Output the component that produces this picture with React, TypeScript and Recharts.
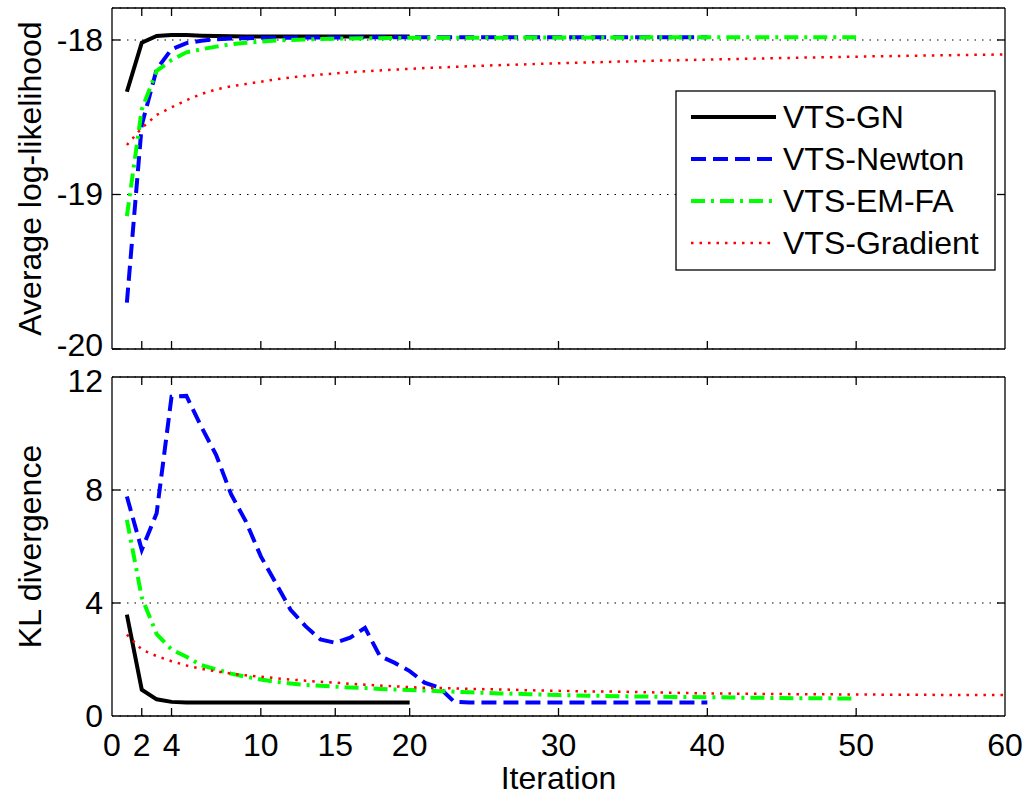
import React from 'react';
import { LineChart, Line, XAxis, YAxis, CartesianGrid, Legend } from 'recharts';

// ---------- data ----------
const ITERATIONS = Array.from({ length: 60 }, (_, i) => i + 1);
const X_TICKS = [0, 2, 4, 10, 15, 20, 30, 40, 50, 60];
const LL_TICKS = [-20, -19, -18];
const KL_TICKS = [0, 4, 8, 12];
const SERIES_NAMES = ['VTS-GN', 'VTS-Newton', 'VTS-EM-FA', 'VTS-Gradient'];

// Average log-likelihood per iteration
const gnLL = [-18.335, -18.017, -17.974, -17.968, -17.968, -17.972, -17.975, -17.976, -17.977, -17.977,
  -17.978, -17.978, -17.978, -17.978, -17.978, -17.978, -17.978, -17.978, -17.978, -17.978];
const newtonLL = [-19.7, -18.55, -18.19, -18.06, -18.02, -18.005, -17.995, -17.99, -17.988, -17.986,
  -17.985, -17.985, -17.984, -17.984, -17.984, -17.984, -17.983, -17.983, -17.983, -17.983,
  -17.983, -17.983, -17.983, -17.983, -17.983, -17.983, -17.983, -17.983, -17.983, -17.983,
  -17.983, -17.983, -17.983, -17.983, -17.983, -17.983, -17.983, -17.983, -17.983, -17.983];
const emfaLL = [-19.14, -18.45, -18.2, -18.13, -18.08, -18.06, -18.043, -18.028, -18.018, -18.01,
  -18.004, -18.0, -17.997, -17.994, -17.992, -17.99, -17.989, -17.988, -17.987, -17.986,
  -17.985, -17.985, -17.985, -17.985, -17.985, -17.985, -17.984, -17.984, -17.984, -17.984,
  -17.984, -17.984, -17.984, -17.984, -17.984, -17.983, -17.983, -17.983, -17.983, -17.983,
  -17.983, -17.983, -17.983, -17.983, -17.983, -17.983, -17.983, -17.983, -17.983, -17.983];
const gradLL = [-18.68, -18.57, -18.485, -18.436, -18.39, -18.35, -18.32, -18.3, -18.285, -18.27,
  -18.255, -18.243, -18.233, -18.224, -18.216, -18.209, -18.203, -18.197, -18.192, -18.187,
  -18.182, -18.178, -18.174, -18.17, -18.166, -18.163, -18.16, -18.157, -18.154, -18.151,
  -18.148, -18.145, -18.143, -18.14, -18.138, -18.135, -18.133, -18.131, -18.129, -18.127,
  -18.125, -18.123, -18.121, -18.119, -18.117, -18.115, -18.113, -18.112, -18.11, -18.108,
  -18.106, -18.105, -18.103, -18.102, -18.1, -18.099, -18.097, -18.096, -18.095, -18.093];

// KL divergence per iteration
const gnKL = [3.59, 0.93, 0.59, 0.5, 0.48, 0.48, 0.48, 0.48, 0.48, 0.48,
  0.48, 0.48, 0.48, 0.48, 0.48, 0.48, 0.48, 0.48, 0.48, 0.48];
const newtonKL = [7.77, 5.88, 7.18, 11.3, 11.33, 10.24, 9.24, 7.85, 6.88, 5.65,
  4.71, 3.76, 3.18, 2.71, 2.59, 2.77, 3.12, 2.12, 1.88, 1.59,
  1.18, 1.0, 0.5, 0.48, 0.48, 0.48, 0.48, 0.48, 0.48, 0.48,
  0.48, 0.48, 0.48, 0.48, 0.48, 0.48, 0.48, 0.48, 0.48, 0.48];
const emfaKL = [6.94, 4.2, 2.9, 2.35, 2.1, 1.8, 1.65, 1.5, 1.39, 1.29,
  1.21, 1.15, 1.1, 1.07, 1.04, 1.01, 0.99, 0.96, 0.94, 0.92,
  0.9, 0.88, 0.86, 0.84, 0.82, 0.8, 0.79, 0.77, 0.76, 0.74,
  0.73, 0.72, 0.71, 0.7, 0.69, 0.69, 0.68, 0.67, 0.67, 0.66,
  0.66, 0.65, 0.65, 0.64, 0.64, 0.63, 0.63, 0.63, 0.62, 0.62];
const gradKL = [2.88, 2.35, 2.12, 1.94, 1.79, 1.67, 1.58, 1.5, 1.44, 1.39,
  1.34, 1.29, 1.25, 1.21, 1.18, 1.14, 1.11, 1.08, 1.05, 1.02,
  1.0, 0.99, 0.98, 0.96, 0.95, 0.94, 0.93, 0.91, 0.9, 0.89,
  0.88, 0.87, 0.87, 0.86, 0.85, 0.84, 0.83, 0.82, 0.81, 0.8,
  0.8, 0.79, 0.79, 0.78, 0.78, 0.77, 0.77, 0.77, 0.76, 0.76,
  0.76, 0.75, 0.75, 0.75, 0.75, 0.74, 0.74, 0.74, 0.74, 0.74];

// ---------- styling ----------
const FONT = '"Liberation Sans", Arial, Helvetica, sans-serif';
const FS = 32;
const STYLES = [
  { key: 'gn', color: '#000000', width: 4, dash: undefined as string | undefined },
  { key: 'newton', color: '#0000ff', width: 4, dash: '15 7' },
  { key: 'emfa', color: '#00ff00', width: 4, dash: '14 6 3 6' },
  { key: 'grad', color: '#ff0000', width: 2.5, dash: '2.5 6' },
];

const llRows = ITERATIONS.map((it, i) => ({
  iter: it,
  gn: i < gnLL.length ? gnLL[i] : null,
  newton: i < newtonLL.length ? newtonLL[i] : null,
  emfa: i < emfaLL.length ? emfaLL[i] : null,
  grad: i < gradLL.length ? gradLL[i] : null,
}));
const klRows = ITERATIONS.map((it, i) => ({
  iter: it,
  gn: i < gnKL.length ? gnKL[i] : null,
  newton: i < newtonKL.length ? newtonKL[i] : null,
  emfa: i < emfaKL.length ? emfaKL[i] : null,
  grad: i < gradKL.length ? gradKL[i] : null,
}));

const TL = 8; // tick length
const AX = { stroke: '#000', strokeWidth: 1.3 };

const xTick = (dir: number, showLabel: boolean) => (p: any) => {
  const v = p.payload.value;
  const edge = v === 0 || v === 60;
  return (
    <g>
      {!edge && <line x1={p.x} x2={p.x} y1={p.y} y2={p.y + dir * TL} stroke="#000" strokeWidth={1.3} />}
      {showLabel && (
        <text x={p.x} y={p.y + 29} textAnchor="middle" dominantBaseline="central" fontFamily={FONT} fontSize={FS} fill="#000">
          {v}
        </text>
      )}
    </g>
  );
};

const yTick = (dir: number, showLabel: boolean, top: number, bottom: number, shift: (v: number) => number) => (p: any) => {
  const v = p.payload.value;
  const edge = v === top || v === bottom;
  return (
    <g>
      {!edge && <line x1={p.x} x2={p.x + dir * TL} y1={p.y} y2={p.y} stroke="#000" strokeWidth={1.3} />}
      {showLabel && (
        <text x={p.x - 9} y={p.y + shift(v)} textAnchor="end" dominantBaseline="central" fontFamily={FONT} fontSize={FS} fill="#000">
          {v}
        </text>
      )}
    </g>
  );
};

const yLabel = (text: string) => (props: any) => {
  const vb = props.viewBox || {};
  const cy = vb.y + vb.height / 2;
  return (
    <text x={30} y={cy} transform={`rotate(-90 30 ${cy})`} textAnchor="middle" dominantBaseline="central"
      fontFamily={FONT} fontSize={FS} fill="#000">
      {text}
    </text>
  );
};

const xLabel = (text: string) => (props: any) => {
  const vb = props.viewBox || {};
  return (
    <text x={vb.x + vb.width / 2} y={vb.y + 62} textAnchor="middle" dominantBaseline="central"
      fontFamily={FONT} fontSize={FS} fill="#000">
      {text}
    </text>
  );
};

const LegendBox = () => (
  <svg width={322} height={182} style={{ display: 'block' }}>
    <rect x={1} y={1} width={319} height={179} fill="#fff" stroke="#000" strokeWidth={1.3} />
    {SERIES_NAMES.map((name, i) => {
      const s = STYLES[i];
      const cy = 27 + i * 42;
      return (
        <g key={name}>
          <line x1={16} x2={101} y1={cy} y2={cy} stroke={s.color} strokeWidth={s.width} strokeDasharray={s.dash} />
          <text x={108} y={cy} dominantBaseline="central" fontFamily={FONT} fontSize={FS} fill="#000">{name}</text>
        </g>
      );
    })}
  </svg>
);

const renderLines = () =>
  STYLES.map((s, i) => (
    <Line
      key={s.key}
      dataKey={s.key}
      name={SERIES_NAMES[i]}
      type="linear"
      stroke={s.color}
      strokeWidth={s.width}
      strokeDasharray={s.dash}
      dot={false}
      activeDot={false}
      isAnimationActive={false}
      connectNulls={false}
    />
  ));

export default function App() {
  return (
    <div style={{ position: 'absolute', left: 0, top: 0, width: 1026, height: 795, background: '#fff' }}>
      <style>{'.recharts-surface{overflow:visible}'}</style>
      <div style={{ position: 'absolute', left: 0, top: 360 }}>
        <LineChart width={1026} height={435} data={klRows} margin={{ top: 0, right: 0, bottom: 0, left: 0 }}>
          <CartesianGrid horizontal vertical={false} stroke="#000" strokeWidth={1.2} strokeDasharray="1.5 6" />
          <XAxis dataKey="iter" type="number" domain={[0, 60]} ticks={X_TICKS} allowDataOverflow interval={0}
            height={79} tickSize={0} tickMargin={0} axisLine={AX} tickLine={false} tick={xTick(-1, true)}
            label={xLabel('Iteration')} />
          <XAxis xAxisId="top" dataKey="iter" orientation="top" type="number" domain={[0, 60]} ticks={X_TICKS}
            allowDataOverflow interval={0} height={17} tickSize={0} tickMargin={0} axisLine={AX} tickLine={false}
            tick={xTick(1, false)} />
          <YAxis type="number" domain={[0, 12]} ticks={KL_TICKS} allowDataOverflow interval={0} width={112}
            tickSize={0} tickMargin={0} axisLine={AX} tickLine={false}
            tick={yTick(1, true, 12, 0, (v) => (v === 12 ? 4 : 0))}
            label={yLabel('KL divergence')} />
          <YAxis yAxisId="r" orientation="right" type="number" domain={[0, 12]} ticks={KL_TICKS}
            allowDataOverflow interval={0} width={21} tickSize={0} tickMargin={0} axisLine={AX} tickLine={false}
            tick={yTick(-1, false, 12, 0, () => 0)} />
          {renderLines()}
        </LineChart>
      </div>
      <div style={{ position: 'absolute', left: 0, top: 0 }}>
        <LineChart width={1026} height={360} data={llRows} margin={{ top: 0, right: 0, bottom: 0, left: 0 }}>
          <CartesianGrid horizontal vertical={false} stroke="#000" strokeWidth={1.2} strokeDasharray="1.5 6" />
          <XAxis dataKey="iter" type="number" domain={[0, 60]} ticks={X_TICKS} allowDataOverflow interval={0}
            height={11} tickSize={0} tickMargin={0} axisLine={AX} tickLine={false} tick={xTick(-1, false)} />
          <XAxis xAxisId="top" dataKey="iter" orientation="top" type="number" domain={[0, 60]} ticks={X_TICKS}
            allowDataOverflow interval={0} height={8} tickSize={0} tickMargin={0} axisLine={AX} tickLine={false}
            tick={xTick(1, false)} />
          <YAxis type="number" domain={[-20, -17.793]} ticks={LL_TICKS} allowDataOverflow interval={0} width={112}
            tickSize={0} tickMargin={0} axisLine={AX} tickLine={false}
            tick={yTick(1, true, -17.793, -20.5, (v) => (v === -20 ? -4 : 0))}
            label={yLabel('Average log-likelihood')} />
          <YAxis yAxisId="r" orientation="right" type="number" domain={[-20, -17.793]} ticks={LL_TICKS}
            allowDataOverflow interval={0} width={21} tickSize={0} tickMargin={0} axisLine={AX} tickLine={false}
            tick={yTick(-1, false, -17.793, -20, () => 0)} />
          {renderLines()}
          <Legend layout="vertical" align="center" verticalAlign="middle" content={() => <LegendBox />}
            wrapperStyle={{ position: 'absolute', left: 675, top: 90, width: 322, height: 182 }} />
        </LineChart>
      </div>
    </div>
  );
}
